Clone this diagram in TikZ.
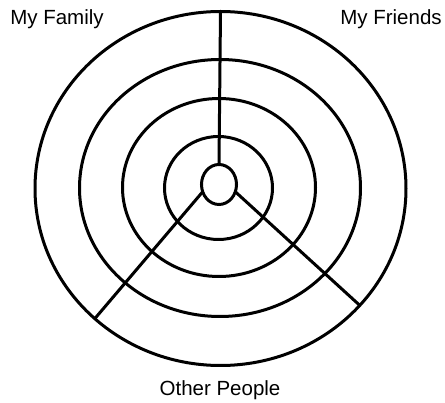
\documentclass[tikz,border=0pt]{standalone}
\usepackage{fontspec}
\setmainfont{Liberation Sans}
\usetikzlibrary{shapes.geometric, positioning}

\begin{document}
\begin{tikzpicture}[
    x=1pt, y=-1pt,
    font=\fontsize{20.5}{24}\selectfont,
    ring/.style={draw=black, line width=3pt, ellipse, inner sep=0pt, outer sep=0pt},
    spoke/.style={draw=black, line width=3pt},
    sector/.style={anchor=base, inner sep=0pt}
]
\useasboundingbox (0,0) rectangle (445,403);

% 1. Concentric rings
\node[ring, minimum width=35pt, minimum height=40pt] (hub) at (219,184.5) {};
\node[ring, minimum width=108pt, minimum height=103pt] (ring2) at (218.5,188) {};
\node[ring, minimum width=193pt, minimum height=178pt] (ring3) at (219,187.5) {};
\node[ring, minimum width=281pt, minimum height=257pt] (ring4) at (220,188) {};
\node[ring, minimum width=371pt, minimum height=354pt] (rim) at (220.5,188.5) {};

% 2. Spokes
\draw[spoke] (hub.north) -- (rim.north);
\draw[spoke] (hub.204) -- (rim.226);
\draw[spoke] (hub.336) -- (rim.320);

% 3. Sector labels
\node[sector] (family) at (57,25) {My Family};
\node[sector] (friends) at (391,25) {My Friends};
\node[sector] (others) at (220,396) {Other People};

\end{tikzpicture}
\end{document}
